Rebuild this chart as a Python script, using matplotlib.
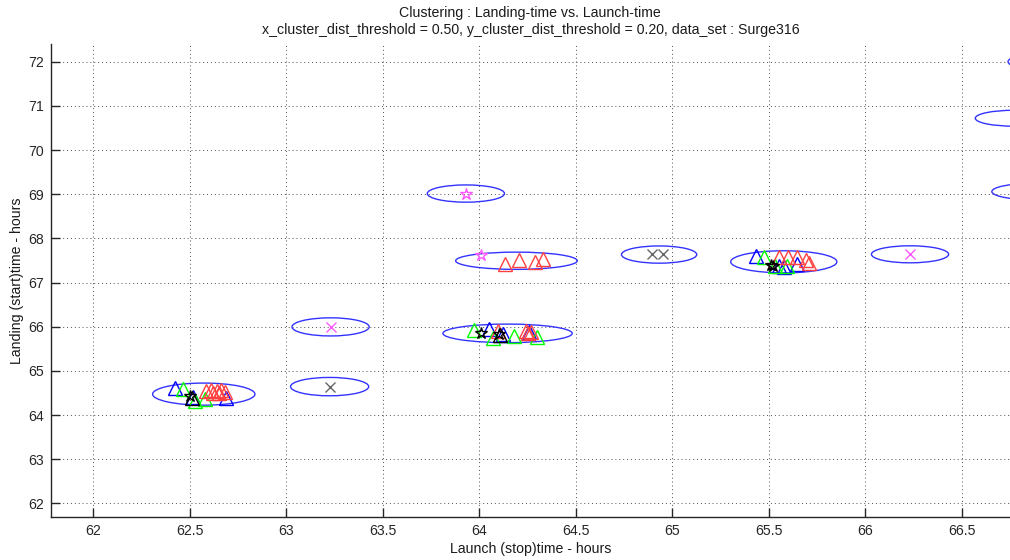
import matplotlib
matplotlib.use("Agg")
import matplotlib.pyplot as plt
from matplotlib.patches import Ellipse

plt.rcParams['font.family'] = ['Liberation Sans', 'DejaVu Sans']

# ---- data ----
title_lines = ["Clustering : Landing-time vs. Launch-time",
               "x_cluster_dist_threshold = 0.50, y_cluster_dist_threshold = 0.20, data_set : Surge316"]
xlabel = "Launch (stop)time - hours"
ylabel = "Landing (start)time - hours"
xticks = [62, 62.5, 63, 63.5, 64, 64.5, 65, 65.5, 66, 66.5]
yticks = [62, 63, 64, 65, 66, 67, 68, 69, 70, 71, 72]

# cluster ellipses: centre x, centre y, full width, full height
ell_cx = [62.573, 63.225, 63.23, 63.931, 64.193, 64.147, 64.932, 65.578, 66.232, 66.94, 66.77, 66.856]
ell_cy = [64.475, 64.645, 65.997, 69.015, 67.494, 65.85, 67.634, 67.47, 67.64, 72.0, 70.72, 69.06]
ell_w = [0.53, 0.405, 0.40, 0.40, 0.63, 0.67, 0.39, 0.55, 0.40, 0.40, 0.40, 0.40]
ell_h = [0.50, 0.415, 0.41, 0.39, 0.39, 0.42, 0.39, 0.50, 0.385, 0.40, 0.36, 0.36]

blue_tri_x = [62.424, 62.69, 62.517, 64.052, 64.259, 64.121, 65.432, 65.553, 65.647, 65.58]
blue_tri_y = [64.62, 64.38, 64.40, 65.96, 65.87, 65.83, 67.60, 67.38, 67.41, 67.36]

green_tri_x = [62.466, 62.578, 62.526, 63.975, 64.07, 64.18, 64.302, 65.475, 65.535, 65.595]
green_tri_y = [64.58, 64.36, 64.33, 65.92, 65.75, 65.79, 65.77, 67.58, 67.38, 67.38]

red_tri_x = [62.587, 62.612, 62.641, 62.664, 62.681, 62.62, 62.65,
             64.095, 64.242, 64.255, 64.27,
             64.133, 64.204, 64.29, 64.332,
             65.553, 65.60, 65.647, 65.694, 65.71]
red_tri_y = [64.54, 64.57, 64.55, 64.57, 64.53, 64.49, 64.49,
             65.90, 65.90, 65.86, 65.89,
             67.41, 67.50, 67.47, 67.53,
             67.58, 67.58, 67.57, 67.51, 67.45]

black_tri_x = [62.51, 64.11]
black_tri_y = [64.38, 65.82]

black_star_x = [62.50, 64.009, 64.104, 65.51, 65.52]
black_star_y = [64.43, 65.85, 65.83, 67.40, 67.37]

gray_x_x = [63.225, 64.894, 64.951]
gray_x_y = [64.645, 67.64, 67.64]

pink_x_x = [63.23, 66.232]
pink_x_y = [65.997, 67.64]

pink_star_x = [63.931, 64.009]
pink_star_y = [69.015, 67.62]

# ---- figure ----
fig = plt.figure(figsize=(10.1, 5.6), dpi=100)
ax = fig.add_axes([0.0502, 0.0773, 0.9498, 0.8441])

for cx, cy, w, h in zip(ell_cx, ell_cy, ell_w, ell_h):
    ax.add_patch(Ellipse((cx, cy), w, h, fill=False, edgecolor=(0.2, 0.2, 1.0), lw=1.0, zorder=2))

tri = dict(marker='^', ms=9.5, mfc='none', mew=1.0, ls='none', zorder=3)
ax.plot(blue_tri_x, blue_tri_y, color='blue', **tri)
ax.plot(green_tri_x, green_tri_y, color=(0.0, 1.0, 0.0), **tri)
ax.plot(red_tri_x, red_tri_y, color=(1.0, 0.25, 0.25), **tri)
ax.plot(black_tri_x, black_tri_y, color='black', **tri)
ax.plot(black_star_x, black_star_y, marker='*', ms=9, mfc='none', mew=1.0, ls='none', color='black', zorder=4)
ax.plot(gray_x_x, gray_x_y, marker='x', ms=7, mew=1.0, ls='none', color=(0.4, 0.4, 0.4), zorder=4)
ax.plot(pink_x_x, pink_x_y, marker='x', ms=7, mew=1.0, ls='none', color=(1.0, 0.35, 1.0), zorder=4)
ax.plot(pink_star_x, pink_star_y, marker='*', ms=9, mfc='none', mew=1.0, ls='none', color=(1.0, 0.35, 1.0), zorder=4)

ax.set_xlim(61.78, 66.75)
ax.set_ylim(61.7, 72.4)
ax.set_xticks(xticks)
ax.set_xticklabels([f"{t:g}" for t in xticks])
ax.set_yticks(yticks)
ax.set_yticklabels([f"{t:g}" for t in yticks])
ax.tick_params(direction='in', length=6.5, width=1.0, labelsize=10.2, colors=(0.15, 0.15, 0.15), pad=5)
ax.grid(True, ls=(0, (1, 3)), color=(0.3, 0.3, 0.3), lw=0.7)
ax.set_axisbelow(True)
for s in ['top', 'right']:
    ax.spines[s].set_visible(False)
for s in ['left', 'bottom']:
    ax.spines[s].set_linewidth(1.0)
    ax.spines[s].set_color((0.15, 0.15, 0.15))

ax.set_title("\n".join(title_lines), fontsize=10.2, linespacing=1.3, pad=7, color=(0.1, 0.1, 0.1))
ax.set_xlabel(xlabel, fontsize=10.2, labelpad=3, color=(0.1, 0.1, 0.1))
ax.set_ylabel(ylabel, fontsize=10.2, labelpad=3, color=(0.1, 0.1, 0.1))

fig.savefig("out.png", dpi=100)
